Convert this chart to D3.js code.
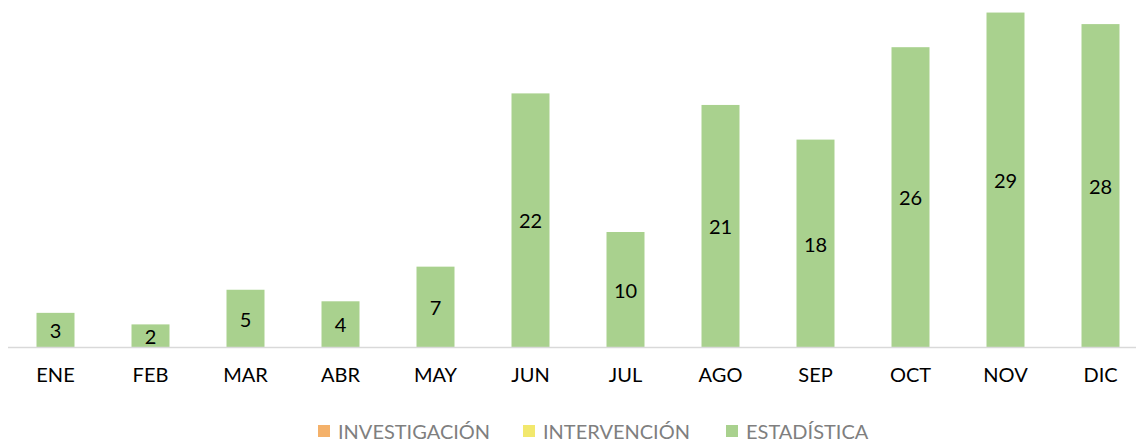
<!DOCTYPE html>
<html>
<head>
<meta charset="utf-8">
<script src="https://cdn.jsdelivr.net/npm/d3@7"></script>
<style>
  html, body { margin: 0; padding: 0; background: #fff; }
  svg { display: block; }
  text { font-family: Lato, "Noto Sans", sans-serif; }
</style>
</head>
<body>
<svg id="chart" width="1136" height="443"></svg>
<script>
// Monthly counts, Estadística series
const months = ["ENE", "FEB", "MAR", "ABR", "MAY", "JUN", "JUL", "AGO", "SEP", "OCT", "NOV", "DIC"];
const estadistica = [3, 2, 5, 4, 7, 22, 10, 21, 18, 26, 29, 28];

// Legend entries
const seriesNames = ["INVESTIGACIÓN", "INTERVENCIÓN", "ESTADÍSTICA"];
const seriesColors = ["#F4B16A", "#F2E86D", "#A9D18E"];

const svg = d3.select("#chart");

const x = d3.scaleBand()
  .domain(months)
  .range([8, 1148])
  .paddingInner(0.6)
  .paddingOuter(0.3);

const y = d3.scaleLinear()
  .domain([0, 30])
  .range([347.5, 1]);

// Bars
svg.append("g")
  .selectAll("rect")
  .data(estadistica)
  .join("rect")
  .attr("x", (d, i) => x(months[i]))
  .attr("width", x.bandwidth())
  .attr("y", d => y(d))
  .attr("height", d => y(0) - y(d))
  .attr("fill", seriesColors[2]);

// Value labels centred inside each bar
svg.append("g")
  .selectAll("text")
  .data(estadistica)
  .join("text")
  .attr("x", (d, i) => x(months[i]) + x.bandwidth() / 2)
  .attr("y", d => (y(d) + y(0)) / 2)
  .attr("text-anchor", "middle")
  .attr("dominant-baseline", "central")
  .attr("font-size", 20)
  .attr("fill", "#000")
  .text(d => d);

// Category axis
const xAxis = d3.axisBottom(x).tickSize(0).tickPadding(20);
const gx = svg.append("g")
  .attr("transform", `translate(0,${y(0)})`)
  .call(xAxis);
gx.select(".domain").attr("d", "M8,0H1136").attr("stroke", "#D9D9D9").attr("stroke-width", 1.5);
gx.selectAll(".tick text")
  .attr("font-family", "Lato, 'Noto Sans', sans-serif")
  .attr("font-size", 20)
  .attr("fill", "#000");

// Legend
const legendX = [318, 523, 726];
const legend = svg.append("g")
  .selectAll("g")
  .data(seriesNames)
  .join("g")
  .attr("transform", (d, i) => `translate(${legendX[i]},431)`);
legend.append("rect")
  .attr("x", 0).attr("y", -6)
  .attr("width", 12).attr("height", 12)
  .attr("fill", (d, i) => seriesColors[i]);
legend.append("text")
  .attr("x", 20)
  .attr("dominant-baseline", "central")
  .attr("font-size", 20)
  .attr("fill", "#7F7F7F")
  .text(d => d);
</script>
</body>
</html>
